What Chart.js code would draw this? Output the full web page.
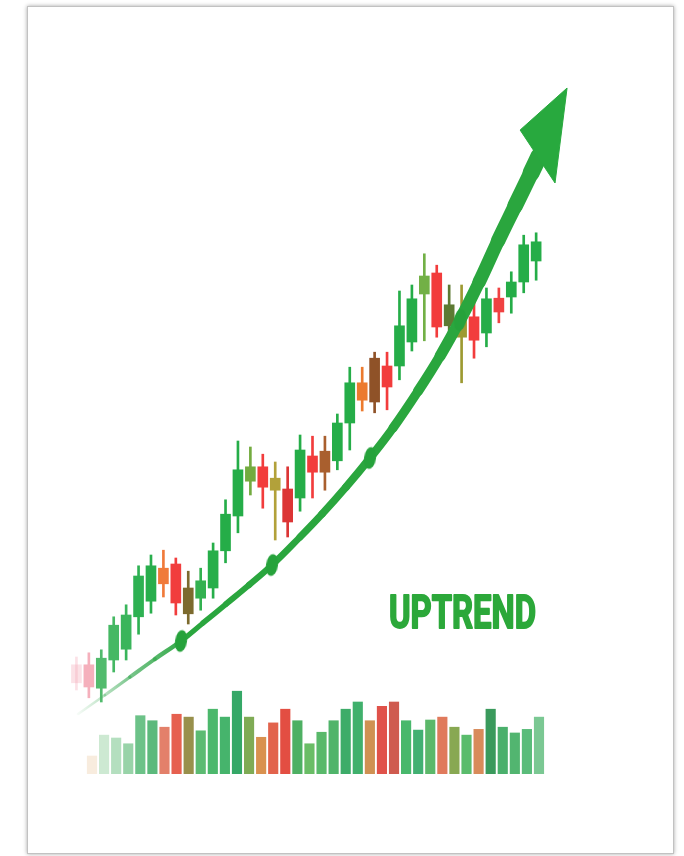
<!DOCTYPE html>
<html>
<head>
<meta charset="utf-8">
<script src="https://cdn.jsdelivr.net/npm/chart.js@4.4.1/dist/chart.umd.min.js"></script>
<style>
  html, body { margin:0; padding:0; background:#ffffff; width:684px; height:856px; overflow:hidden; }
  #card { position:absolute; left:27px; top:6px; width:645px; height:846px; background:#ffffff;
          border:1px solid #c2c2c2; box-shadow:0 0 4px rgba(0,0,0,0.35); }
  #wrap { position:absolute; left:0; top:0; width:684px; height:856px; }
</style>
</head>
<body>
<div id="card"></div>
<div id="wrap"><canvas id="chart" width="684" height="856"></canvas></div>
<script>
// ---------------- DATA ----------------
const sessions = ['S1','S2','S3','S4','S5','S6','S7','S8','S9','S10','S11','S12','S13','S14','S15','S16','S17','S18','S19',
  'S20','S21','S22','S23','S24','S25','S26','S27','S28','S29','S30','S31','S32','S33','S34','S35','S36','S37','S38'];

const openPrices  = [18.2,18.2,14.3,19.0,20.8,26.2,28.8,34.3,35.0,31.0,29.3,31.0,37.2,43.0,48.8,51.2,49.3,47.5,46.0,53.0,
  53.8,52.2,58.5,65.2,69.3,68.0,68.0,72.0,80.0,83.5,78.2,76.0,76.2,73.5,79.3,79.5,82.0,85.5];
const closePrices = [15.2,14.5,19.3,24.8,26.5,33.0,34.7,31.7,28.5,26.7,32.2,37.2,43.3,50.7,51.2,47.8,47.3,42.0,54.0,50.3,
  50.3,58.5,65.2,62.3,62.0,64.5,74.7,79.2,83.0,74.5,74.7,72.8,72.3,79.2,77.0,82.0,88.2,88.7];
const highPrices  = [19.5,20.2,20.7,26.2,28.2,34.7,36.5,37.3,36.0,33.8,34.3,38.5,45.7,55.5,54.5,53.3,52.0,51.2,56.5,56.3,
  56.3,60.0,67.8,67.8,70.3,70.3,80.5,81.5,86.7,84.8,81.5,81.5,78.8,81.0,81.0,83.7,89.8,90.2];
const lowPrices   = [14.0,12.7,12.0,17.0,19.0,23.3,26.8,29.5,26.5,25.0,27.3,29.3,35.2,40.2,46.5,44.3,39.0,39.5,43.8,46.0,
  47.3,50.7,54.0,60.5,60.2,60.7,65.7,70.5,72.2,72.8,73.2,65.2,69.3,71.2,75.2,76.8,80.2,82.3];

const volumes = [25,54,50,42,81,74,65,83,79,60,90,79,115,79,51,71,90,74,42,58,
  74,90,100,74,94,100,74,61,75,79,65,54,62,90,65,57,62,79];

// trend curve (session index, price)
const trendX = [0.13, 2.30, 4.31, 6.32, 8.42, 10.19, 12.04, 13.89, 15.74, 18.00, 19.77,
  21.70, 23.63, 25.48, 27.50, 29.27, 30.88, 32.41, 33.93, 35.30, 36.59, 37.24];
const trendY = [10.0, 13.17, 16.17, 19.17, 22.17, 25.17, 28.33, 31.5, 34.83, 39.5, 43.33,
  47.83, 52.67, 57.67, 63.83, 69.67, 75.67, 82.0, 88.83, 94.67, 100.17, 103.0];
const trendMarkers = [4, 8, 12, 16];

// arrow head outline (session index, price)
const arrowX = [39.49, 35.71, 36.67, 37.72, 38.52, 39.49];
const arrowY = [114.33, 107.33, 104.33, 101.0, 98.5, 114.33];

const labelText = 'UPTREND';

// ---------------- STYLES ----------------
const candleColors = ['rgba(244,170,182,0.35)','#f5b0bc','#52bb6d','#45b863','#3ab55b','#2eb152','#28ae4c','#f07a3a',
  '#f13d3d','#7c6a2e','#33b150','#27ae4a','#25ad48','#25ad48','#73ab3f','#f23c3c','#b2a13a','#dc3535','#25ad48',
  '#f23c3c','#a95f2e','#25ad48','#25ad48','#ec7a2e','#8f5228','#f23c3c','#25ad48','#25ad48','#72b046','#f23c3c',
  '#5d7a33','#9d9a31','#f23c3c','#25ad48','#f04242','#25ad48','#25ad48','#25ad48'];
const volumeColors = ['rgba(236,200,160,0.35)','#cde9d2','#b4dfbf','#98d3a8','#6cc288','#5cb97c','#e3806a','#e6604f',
  '#98904c','#5cbb72','#4cb86c','#46b46c','#35a867','#7fab55','#d9914f','#e2634c','#e34e42','#4eb063','#6abd66',
  '#59b96a','#50b46a','#3dac69','#40b06c','#cf9153','#e0524a','#cf5b4f','#48b86c','#42b072','#5cb86a','#e07a5c',
  '#88a852','#5abc6c','#d88b5a','#3a9a5c','#4ab06c','#52b570','#5abc7a','#7bc893'];
const trendWidths = [2.5, 3.2, 3.9, 4.5, 5.0, 5.5, 5.9, 6.3, 6.7, 7.1, 7.5,
  7.9, 8.4, 9.2, 10.2, 11.2, 12.3, 13.4, 14.5, 15.6, 17];

// ellipse marker image
const marker = document.createElement('canvas');
marker.width = 14; marker.height = 25;
(function(){ const m = marker.getContext('2d'); m.fillStyle = '#26a23b';
  m.beginPath(); m.ellipse(7, 12.5, 6, 11, 0, 0, Math.PI * 2); m.fill(); })();

const uptrendLabel = {
  id: 'uptrendLabel',
  afterDatasetsDraw(chart) {
    const c = chart.ctx;
    c.save();
    c.font = '700 46px Roboto';
    c.fillStyle = '#2ca83a';
    c.strokeStyle = '#2ca83a';
    c.lineWidth = 2;
    c.lineJoin = 'round';
    c.textBaseline = 'alphabetic';
    const w = c.measureText(labelText).width;
    c.translate(389, 628);
    c.scale(147 / w, 1);
    c.fillText(labelText, 0, 0);
    c.strokeText(labelText, 0, 0);
    c.restore();
  }
};

const idx = sessions.map((s, i) => i);

new Chart(document.getElementById('chart'), {
  type: 'bar',
  data: {
    datasets: [
      {
        label: 'Volume',
        data: idx.map(i => ({ x: i, y: volumes[i] })),
        xAxisID: 'xv', yAxisID: 'yv',
        backgroundColor: volumeColors,
        barThickness: 9.5, grouped: false, order: 5
      },
      {
        label: 'Wicks',
        data: idx.map(i => ({ x: i, y: [lowPrices[i], highPrices[i]] })),
        xAxisID: 'x', yAxisID: 'y',
        backgroundColor: candleColors,
        barThickness: 2, grouped: false, order: 4
      },
      {
        label: 'Bodies',
        data: idx.map(i => ({ x: i, y: [openPrices[i], closePrices[i]] })),
        xAxisID: 'x', yAxisID: 'y',
        backgroundColor: candleColors,
        barThickness: 10, grouped: false, order: 3
      },
      {
        type: 'line',
        label: 'Trend',
        data: trendX.map((x, i) => ({ x: x, y: trendY[i] })),
        xAxisID: 'x', yAxisID: 'y',
        tension: 0.4,
        borderCapStyle: 'round',
        borderJoinStyle: 'round',
        borderWidth: 6,
        borderColor: (ctx) => {
          const chart = ctx.chart;
          if (!chart.chartArea) return '#2aa63e';
          const xs = chart.scales.x;
          const g = chart.ctx.createLinearGradient(xs.getPixelForValue(0), 0, xs.getPixelForValue(9), 0);
          g.addColorStop(0, 'rgba(90,185,110,0.04)');
          g.addColorStop(0.5, 'rgba(70,175,95,0.75)');
          g.addColorStop(1, '#2aa63e');
          return g;
        },
        segment: {
          borderWidth: (ctx) => trendWidths[ctx.p0DataIndex] || 6
        },
        pointStyle: marker,
        pointRotation: 8,
        pointRadius: (ctx) => trendMarkers.includes(ctx.dataIndex) ? 7 : 0,
        pointHoverRadius: 0,
        fill: false,
        order: 2
      },
      {
        type: 'line',
        label: 'Arrow',
        data: arrowX.map((x, i) => ({ x: x, y: arrowY[i] })),
        xAxisID: 'x', yAxisID: 'y',
        tension: 0,
        borderColor: '#28a93e',
        backgroundColor: '#28a93e',
        borderWidth: 1,
        pointRadius: 0,
        fill: 'shape',
        order: 1
      }
    ]
  },
  options: {
    responsive: false,
    animation: false,
    events: [],
    layout: { padding: { left: 70, right: 84, top: 54, bottom: 82 } },
    plugins: { legend: { display: false }, tooltip: { enabled: false } },
    scales: {
      x:  { type: 'linear', min: -0.518, max: 42.14, offset: false, display: false },
      xv: { type: 'linear', min: -1.821, max: 42.05, offset: false, display: false },
      y:  { type: 'linear', min: 0, max: 120, display: false },
      yv: { type: 'linear', min: 0, max: 1000, display: false }
    }
  },
  plugins: [uptrendLabel]
});
</script>
</body>
</html>
